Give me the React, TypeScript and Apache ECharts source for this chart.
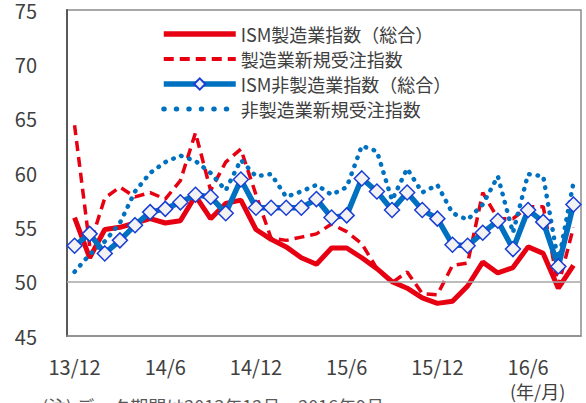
import React, { useEffect, useRef } from 'react';
import * as echarts from 'echarts';

const categories = [
  '13/12',
  '14/1', '14/2', '14/3', '14/4', '14/5', '14/6', '14/7', '14/8', '14/9', '14/10', '14/11', '14/12',
  '15/1', '15/2', '15/3', '15/4', '15/5', '15/6', '15/7', '15/8', '15/9', '15/10', '15/11', '15/12',
  '16/1', '16/2', '16/3', '16/4', '16/5', '16/6', '16/7', '16/8', '16/9',
];

const ismManufacturing = [
  55.9, 52.2, 54.8, 55.0, 55.4, 55.8, 55.4, 55.6, 57.9, 55.8, 57.2, 57.5,
  54.8, 53.9, 53.2, 52.2, 51.6, 53.1, 53.1, 52.2, 51.2, 50.0, 49.4, 48.5,
  48.0, 48.2, 49.6, 51.8, 50.8, 51.3, 53.2, 52.6, 49.4, 51.5,
];

const manufacturingNewOrders = [
  64.4, 53.3, 57.7, 58.7, 57.8, 58.2, 57.6, 59.3, 63.7, 58.4, 61.0, 62.2,
  58.0, 54.0, 53.8, 54.1, 54.4, 55.3, 54.6, 53.5, 51.2, 49.9, 50.9, 48.9,
  48.8, 51.5, 51.7, 58.2, 55.8, 55.8, 56.9, 56.9, 49.6, 55.0,
];

const ismNonManufacturing = [
  53.3, 54.4, 52.6, 53.8, 55.2, 56.4, 56.7, 57.3, 58.0, 57.8, 56.3, 59.4,
  56.8, 56.8, 56.8, 56.8, 57.6, 55.9, 56.1, 59.5, 58.3, 56.6, 58.2, 56.6,
  55.8, 53.4, 53.3, 54.5, 55.6, 53.0, 56.6, 55.5, 51.4, 57.1,
];

const nonManufacturingNewOrders = [
  50.9, 52.5, 53.7, 55.4, 58.3, 60.0, 61.0, 61.6, 61.1, 60.0, 58.4, 61.2,
  59.7, 59.9, 57.8, 58.3, 58.9, 58.0, 58.7, 62.5, 62.0, 57.5, 60.4, 58.2,
  58.9, 56.3, 55.7, 57.1, 59.7, 54.5, 59.9, 59.7, 51.8, 59.1,
];

const yTicks = { min: 45, max: 75, interval: 5 };
const referenceLevel = 50;

const seriesNames = [
  'ISM製造業指数（総合）',
  '製造業新規受注指数',
  'ISM非製造業指数（総合）',
  '非製造業新規受注指数',
];

const FONT = "'Noto Sans CJK JP', 'Noto Sans', sans-serif";
const TEXT = '#404040';
const RED = '#e60012';
const BLUE = '#0070c0';
const DASH = [10, 6];
const DOT = [0.5, 8];

export default function App() {
  const ref = useRef<HTMLDivElement>(null);

  useEffect(() => {
    if (!ref.current) return;
    const chart = echarts.init(ref.current, null, { renderer: 'svg' });
    chart.setOption({
      animation: false,
      backgroundColor: '#ffffff',
      textStyle: { fontFamily: FONT },
      grid: {
        left: 67,
        right: 5,
        top: 9,
        bottom: 67,
        show: true,
        borderColor: '#8c8c8c',
        borderWidth: 1.5,
        containLabel: false,
      },
      legend: {
        data: [
          {
            name: seriesNames[0],
            itemStyle: { opacity: 0 },
            lineStyle: { color: RED, width: 5.5, type: 'solid' },
          },
          {
            name: seriesNames[1],
            itemStyle: { opacity: 0 },
            lineStyle: { color: RED, width: 4, type: DASH },
          },
          {
            name: seriesNames[2],
            lineStyle: { color: BLUE, width: 5.5, type: 'solid' },
          },
          {
            name: seriesNames[3],
            itemStyle: { opacity: 0 },
            lineStyle: { color: BLUE, width: 5, type: [0.5, 12], cap: 'round' },
          },
        ],
        orient: 'vertical',
        left: 156,
        top: 20,
        itemWidth: 72,
        itemHeight: 14,
        itemGap: 7,
        textStyle: { fontFamily: FONT, fontSize: 18, color: TEXT, lineHeight: 18 },
        selectedMode: false,
      },
      xAxis: {
        type: 'category',
        data: categories,
        boundaryGap: true,
        axisLine: { show: true, lineStyle: { color: '#8c8c8c', width: 1.5 } },
        axisTick: { show: false },
        axisLabel: {
          interval: 5,
          margin: 20,
          fontSize: 20,
          color: TEXT,
          fontFamily: FONT,
        },
        splitLine: { show: false },
      },
      yAxis: {
        type: 'value',
        min: yTicks.min,
        max: yTicks.max,
        interval: yTicks.interval,
        axisLine: { show: true, lineStyle: { color: '#595959', width: 2 } },
        axisTick: { show: false },
        axisLabel: { margin: 30, fontSize: 20, color: TEXT, fontFamily: FONT },
        splitLine: { show: false },
      },
      series: [
        {
          name: 'ref',
          type: 'line',
          data: [],
          z: 1,
          silent: true,
          markLine: {
            silent: true,
            symbol: 'none',
            label: { show: false },
            lineStyle: { color: '#a6a6a6', width: 1.5, type: 'solid' },
            data: [{ yAxis: referenceLevel }],
          },
        },
        {
          name: seriesNames[0],
          type: 'line',
          data: ismManufacturing,
          z: 3,
          symbol: 'none',
          lineStyle: { color: RED, width: 5 },
          itemStyle: { color: RED },
        },
        {
          name: seriesNames[1],
          type: 'line',
          data: manufacturingNewOrders,
          z: 2,
          symbol: 'none',
          lineStyle: { color: RED, width: 3.5, type: DASH },
          itemStyle: { color: RED },
        },
        {
          name: seriesNames[2],
          type: 'line',
          data: ismNonManufacturing,
          z: 5,
          symbol: 'diamond',
          symbolSize: 15,
          showAllSymbol: true,
          lineStyle: { color: BLUE, width: 5.5 },
          itemStyle: { color: '#f2f2f2', borderColor: '#1a3dd6', borderWidth: 1.5 },
        },
        {
          name: seriesNames[3],
          type: 'line',
          data: nonManufacturingNewOrders,
          z: 4,
          symbol: 'none',
          lineStyle: { color: BLUE, width: 4.5, type: DOT, cap: 'round' },
          itemStyle: { color: BLUE },
        },
      ],
      graphic: [
        {
          type: 'text',
          left: 510,
          top: 382,
          style: { text: '(年/月)', fontSize: 18, fill: TEXT, fontFamily: FONT },
        },
        {
          type: 'text',
          left: 42,
          top: 397,
          style: {
            text: '(注) データ期間は2013年12月～2016年9月',
            fontSize: 18,
            fill: '#595959',
            fontFamily: FONT,
          },
        },
      ],
    });
    return () => chart.dispose();
  }, []);

  return (
    <div
      ref={ref}
      style={{ position: 'fixed', left: 0, top: 0, width: 586, height: 403, background: '#fff' }}
    />
  );
}
